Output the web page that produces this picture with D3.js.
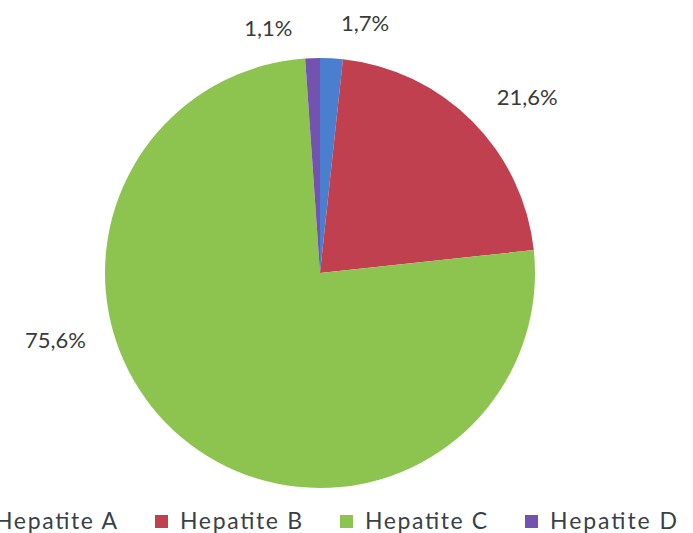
<!DOCTYPE html>
<html>
<head>
<meta charset="utf-8">
<script src="https://cdn.jsdelivr.net/npm/d3@7"></script>
<style>
  html, body { margin: 0; padding: 0; background: #ffffff; }
  svg { display: block; }
</style>
</head>
<body>
<svg id="chart" width="693" height="533"></svg>
<script>
// ---- data ----
const categories = ["Hepatite A", "Hepatite B", "Hepatite C", "Hepatite D"];
const values = [1.7, 21.6, 75.6, 1.1];
const labels = ["1,7%", "21,6%", "75,6%", "1,1%"];
const colors = ["#4a7fd0", "#c0404f", "#8dc450", "#7452b0"];

// ---- layout config (not data) ----
const W = 693, H = 533;
const cx = 320, cy = 273, R = 215;
// label placement: angle (deg, clockwise from 12 o'clock) and distance from centre
const labelPlace = [
  { a: 10.2, r: 255 },
  { a: 49.6, r: 272 },
  { a: 255.8, r: 273 },
  { a: -11.9, r: 251 }
];

const svg = d3.select("#chart");
const g = svg.append("g").attr("transform", `translate(${cx},${cy})`);

const pie = d3.pie().sort(null).value(d => d)(values);
const arc = d3.arc().innerRadius(0).outerRadius(R);

g.selectAll("path.slice")
  .data(pie)
  .join("path")
  .attr("class", "slice")
  .attr("d", arc)
  .attr("fill", (d, i) => colors[i])
  .attr("stroke", "none");

// data labels
g.selectAll("text.lbl")
  .data(pie)
  .join("text")
  .attr("class", "lbl")
  .attr("x", (d, i) => labelPlace[i].r * Math.sin(labelPlace[i].a * Math.PI / 180))
  .attr("y", (d, i) => -labelPlace[i].r * Math.cos(labelPlace[i].a * Math.PI / 180))
  .attr("text-anchor", "middle")
  .attr("dominant-baseline", "central")
  .attr("font-family", "Lato, 'Open Sans', sans-serif")
  .attr("font-size", 22)
  .attr("fill", "#3a3a3a")
  .text((d, i) => labels[i]);

// legend
const legX = d3.scaleLinear().domain([0, 1]).range([-5, 180]);
const leg = svg.append("g");
const items = leg.selectAll("g.item")
  .data(categories)
  .join("g")
  .attr("class", "item")
  .attr("transform", (d, i) => `translate(${legX(i)},0)`);

items.append("rect")
  .attr("x", -25)
  .attr("y", 515)
  .attr("width", 13)
  .attr("height", 13)
  .attr("fill", (d, i) => colors[i]);

items.append("text")
  .attr("x", 0)
  .attr("y", 529)
  .attr("font-family", "Lato, 'Open Sans', sans-serif")
  .attr("font-size", 23)
  .attr("fill", "#3a3f48")
  .attr("textLength", (d, i) => i === 3 ? 127 : 122)
  .attr("lengthAdjust", "spacing")
  .text(d => d);
</script>
</body>
</html>
